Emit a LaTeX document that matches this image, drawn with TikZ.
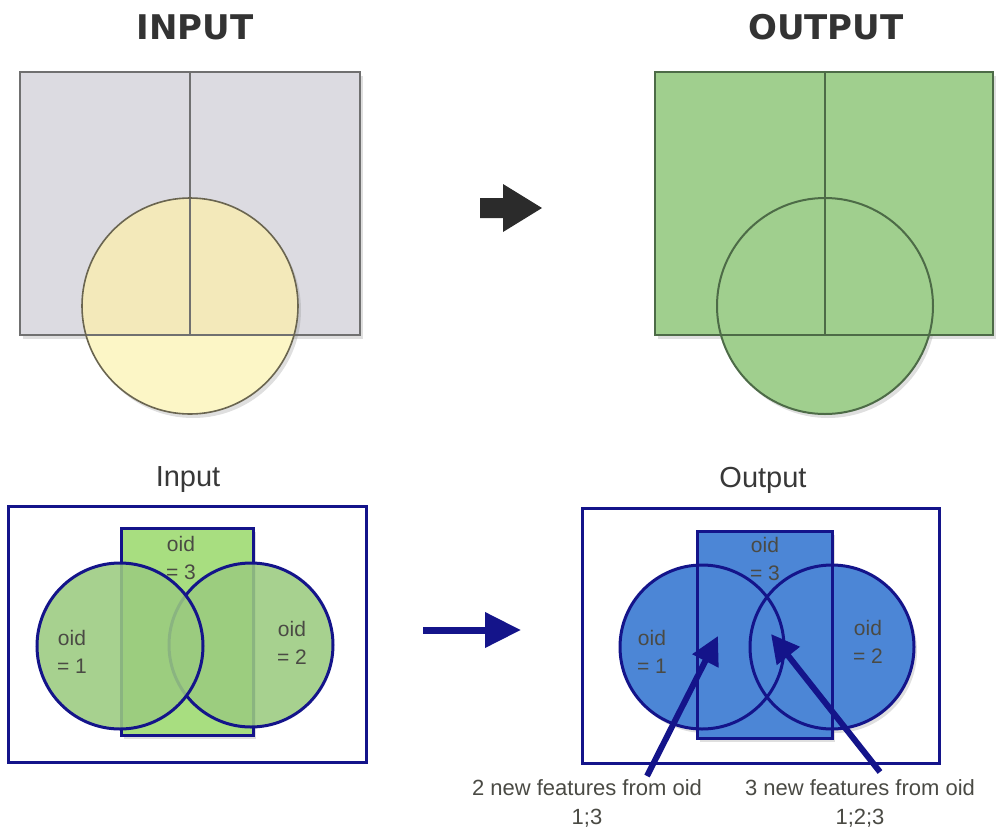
\documentclass[tikz,border=0pt]{standalone}
\usepackage{fontspec}
\setmainfont{Liberation Sans}
\newfontfamily\ttlfont{DejaVu Sans}
\usetikzlibrary{arrows.meta,shadows}
\definecolor{greyfill}{HTML}{DCDBE1}
\definecolor{greyline}{HTML}{707070}
\definecolor{yellowlow}{HTML}{FCF6C6}
\definecolor{yellowup}{HTML}{F3E9BA}
\definecolor{yellowline}{HTML}{6A6550}
\definecolor{greenout}{HTML}{A0CF8E}
\definecolor{greenline}{HTML}{4D6B47}
\definecolor{greenrect}{HTML}{A8DE80}
\definecolor{greencirc}{HTML}{9BCB7F}
\definecolor{navy}{HTML}{14148A}
\definecolor{bluefill}{HTML}{4C86D6}
\definecolor{labgrey}{HTML}{4A4A44}
\definecolor{arrowblack}{HTML}{2B2B2B}

\begin{document}
\begin{tikzpicture}[x=1pt,y=-1pt,
    ttl/.style={font=\ttlfont\bfseries\fontsize{34}{40}\selectfont,text=black!80},
    sub/.style={font=\fontsize{29}{34}\selectfont,text=black!78},
    oid/.style={font=\fontsize{21}{28}\selectfont,text=labgrey,align=center},
    note/.style={font=\fontsize{22}{29}\selectfont,text=labgrey,align=center},
    shd/.style={drop shadow={shadow xshift=3pt,shadow yshift=-4pt,opacity=.25}},
    pointer/.style={navy,line width=6pt,-{Triangle[length=28pt,width=28pt]}}]
  \useasboundingbox (0,0) rectangle (996,833);
  % top input
  \node[ttl] (ttlIn) at (195,27) {INPUT};
  \fill[greyfill,shd] (20,72) rectangle (360,335);
  \fill[yellowlow,shd] (190,306) circle[radius=108pt];
  \begin{scope}
    \clip (20,72) rectangle (360,335);
    \fill[yellowup] (190,306) circle[radius=108pt];
  \end{scope}
  \draw[greyline,line width=2pt] (20,72) rectangle (360,335);
  \draw[greyline,line width=2pt] (190,72) -- (190,335);
  \draw[yellowline,line width=1.6pt] (190,306) circle[radius=108pt];
  \fill[arrowblack] (480,198) -- (503,198) -- (503,184) -- (542,208)
    -- (503,232) -- (503,218) -- (480,218) -- cycle;
  % top output
  \node[ttl] (ttlOut) at (826,27) {OUTPUT};
  \fill[greenout,shd] (655,72) rectangle (993,335);
  \fill[greenout,shd] (825,306) circle[radius=108pt];
  \fill[greenout] (655,72) rectangle (993,335);
  \draw[greenline,line width=2pt] (655,72) rectangle (993,335);
  \draw[greenline,line width=2pt] (825,72) -- (825,335);
  \draw[greenline,line width=2pt] (825,306) circle[radius=108pt];
  % bottom input
  \node[sub] (subIn) at (188,480) {Input};
  \draw[navy,line width=3pt] (8,506) rectangle (366,762);
  \filldraw[fill=greenrect,draw=navy,line width=3pt,shd] (121,528) rectangle (253,735);
  \filldraw[fill=greencirc,fill opacity=.88,draw=navy,line width=3pt] (251,645) circle[radius=82pt];
  \filldraw[fill=greencirc,fill opacity=.88,draw=navy,line width=3pt] (120,646) circle[radius=83pt];
  \node[oid] (oidInC) at (181,558) {oid\\= 3};
  \node[oid] (oidInA) at (72,652) {oid\\= 1};
  \node[oid] (oidInB) at (292,643) {oid\\= 2};
  \coordinate (arrS) at (423,630);
  \coordinate (arrE) at (521,630);
  \draw[navy,line width=7pt,-{Triangle[length=36pt,width=34pt]}] (arrS) -- (arrE);
  % bottom output
  \node[sub] (subOut) at (763,480) {Output};
  \draw[navy,line width=3pt] (582,508) rectangle (939,763);
  \fill[bluefill,shd] (697,531) rectangle (832,738);
  \fill[bluefill,shd] (832,647) circle[radius=82pt];
  \fill[bluefill,shd] (702,647) circle[radius=82pt];
  \fill[bluefill] (697,531) rectangle (832,738);
  \fill[bluefill] (832,647) circle[radius=82pt];
  \draw[navy,line width=3pt] (697,531) rectangle (832,738);
  \draw[navy,line width=3pt] (832,647) circle[radius=82pt];
  \draw[navy,line width=3pt] (702,647) circle[radius=82pt];
  \node[oid] (oidOutC) at (765,559) {oid\\= 3};
  \node[oid] (oidOutA) at (652,652) {oid\\= 1};
  \node[oid] (oidOutB) at (868,642) {oid\\= 2};
  \node[note] (labA) at (587,803) {2 new features from oid\\1;3};
  \node[note] (labB) at (860,803) {3 new features from oid\\1;2;3};
  \coordinate (ptA) at (647,776);
  \coordinate (tipA) at (718,636);
  \coordinate (ptB) at (880,772);
  \coordinate (tipB) at (771,634);
  \draw[pointer] (ptA) -- (tipA);
  \draw[pointer] (ptB) -- (tipB);
\end{tikzpicture}
\end{document}
